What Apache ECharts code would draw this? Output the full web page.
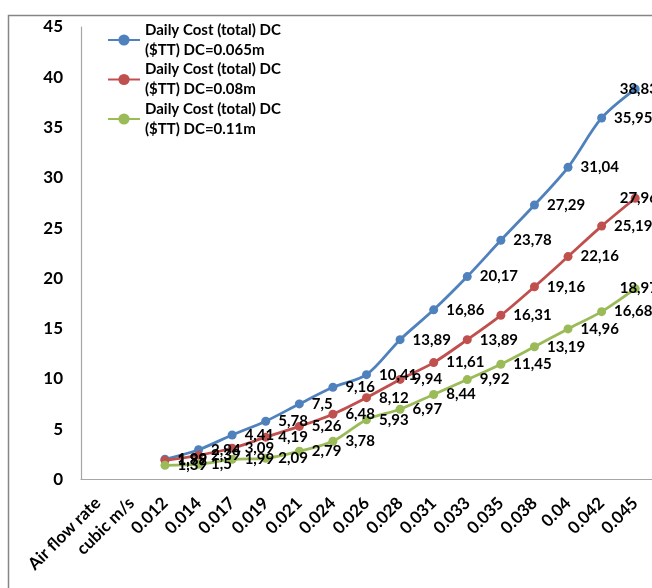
<!DOCTYPE html>
<html>
<head>
<meta charset="utf-8">
<script src="https://cdn.jsdelivr.net/npm/echarts@6/dist/echarts.min.js"></script>
<style>
html,body{margin:0;padding:0;background:#fff;}
#chart{width:652px;height:588px;}
</style>
</head>
<body>
<div id="chart"></div>
<script>
var categories = ["Air flow rate", "cubic m/s", "0.012", "0.014", "0.017", "0.019", "0.021", "0.024", "0.026", "0.028", "0.031", "0.033", "0.035", "0.038", "0.04", "0.042", "0.045"];
var seriesNames = [
  "Daily Cost (total) DC ($TT) DC=0.065m",
  "Daily Cost (total) DC ($TT) DC=0.08m",
  "Daily Cost (total) DC ($TT) DC=0.11m"
];
var dc065 = [1.99, 2.94, 4.41, 5.78, 7.5, 9.16, 10.41, 13.89, 16.86, 20.17, 23.78, 27.29, 31.04, 35.95, 38.83];
var dc08 = [1.89, 2.39, 3.09, 4.19, 5.26, 6.48, 8.12, 9.94, 11.61, 13.89, 16.31, 19.16, 22.16, 25.19, 27.96];
var dc011 = [1.39, 1.5, 1.99, 2.09, 2.79, 3.78, 5.93, 6.97, 8.44, 9.92, 11.45, 13.19, 14.96, 16.68, 18.97];
var yTicks = {min: 0, max: 45, interval: 5};
var colors = ['#4F81BD', '#C0504D', '#9BBB59'];

var FONT = 'Lato';

function buildData(arr) {
  // two leading empty categories (axis title labels), then values
  var d = [null, null];
  arr.forEach(function (v, i) {
    if (i === arr.length - 1) {
      d.push({value: v, label: {offset: [-28, 0]}});
    } else {
      d.push(v);
    }
  });
  return d;
}

function makeSeries(name, arr, color) {
  return {
    name: name,
    type: 'line',
    data: buildData(arr),
    smooth: 0.3,
    symbol: 'circle',
    symbolSize: 9,
    connectNulls: false,
    lineStyle: {color: color, width: 2.8},
    itemStyle: {color: color},
    label: {
      show: true,
      position: 'right',
      distance: 8,
      color: '#000',
      fontFamily: FONT,
      fontWeight: 'bold',
      fontSize: 15,
      formatter: function (p) { return String(p.value).replace('.', ','); }
    },
    emphasis: {disabled: true},
    animation: false
  };
}

var chart = echarts.init(document.getElementById('chart'), null, {renderer: 'canvas'});
chart.setOption({
  animation: false,
  backgroundColor: '#fff',
  graphic: [{
    type: 'rect',
    silent: true,
    shape: {x: 8.5, y: 15.5, width: 800, height: 800},
    style: {fill: null, stroke: '#868686', lineWidth: 1.5}
  }],
  grid: {left: 81, right: 0, top: 27, bottom: 108.7, containLabel: false},
  legend: {
    orient: 'vertical',
    left: 107,
    top: 10,
    padding: 0,
    itemGap: -20.5,
    itemWidth: 32,
    itemHeight: 14,
    data: seriesNames,
    formatter: function (n) { return n.replace(' ($TT)', '\n($TT)'); },
    textStyle: {
      fontFamily: FONT,
      fontWeight: 'bold',
      fontSize: 15,
      color: '#000',
      lineHeight: 20,
      padding: [20, 0, 0, 0]
    }
  },
  xAxis: {
    type: 'category',
    data: categories,
    boundaryGap: true,
    axisLine: {show: true, lineStyle: {color: '#A6A6A6', width: 1.2}},
    axisTick: {show: false},
    axisLabel: {
      interval: 0,
      rotate: 45,
      margin: 21,
      color: '#000',
      fontFamily: FONT,
      fontWeight: 'bold',
      fontSize: 17
    },
    splitLine: {show: false}
  },
  yAxis: {
    type: 'value',
    min: yTicks.min,
    max: yTicks.max,
    interval: yTicks.interval,
    axisLine: {show: true, lineStyle: {color: '#A6A6A6', width: 1.2}},
    axisTick: {show: false},
    splitLine: {show: false},
    axisLabel: {
      margin: 18,
      color: '#000',
      fontFamily: FONT,
      fontWeight: 'bold',
      fontSize: 17
    }
  },
  series: [
    makeSeries(seriesNames[0], dc065, colors[0]),
    makeSeries(seriesNames[1], dc08, colors[1]),
    makeSeries(seriesNames[2], dc011, colors[2])
  ]
});
</script>
</body>
</html>
